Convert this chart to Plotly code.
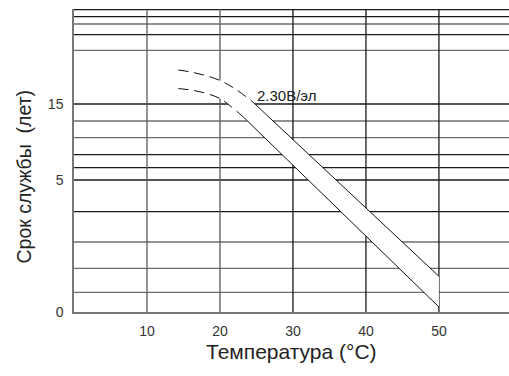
import plotly.graph_objects as go

# Temperature axis ticks
x_ticks = [10, 20, 30, 40, 50]
x_tick_labels = ["10", "20", "30", "40", "50"]

# Vertical position scale (chart units); labelled positions
y_tick_vals = [0, 132, 208]
y_tick_labels = ["0", "5", "15"]

# Horizontal grid lines (chart units) and whether each is dark or light
h_lines = [302.4, 295.4, 288, 277.4, 261.7, 208, 191, 174.4, 157.4, 144.4, 132, 100.4, 70, 43.7, 19.7]
h_dark = [True, True, False, True, False, True, False, False, True, True, True, True, False, False, False]
v_dark = [False, False, True, True, True]

# Service-life band, 2.30 V/cell
upper_dash_x = [14.3, 16.0, 18.0, 20.0, 22.0, 24.5]
upper_dash_y = [242, 240, 236.5, 231.5, 223.5, 210]
upper_solid_x = [24.5, 50.0]
upper_solid_y = [210, 35.7]
lower_dash_x = [14.3, 16.0, 18.0, 20.0, 21.6, 23.2]
lower_dash_y = [223.4, 222, 218.8, 213.5, 205, 195]
lower_solid_x = [23.2, 50.0]
lower_solid_y = [195, 5]

band_label = "2.30В/эл"
band_label_x = 24.8
band_label_y = 217

FONT = "Arial, Liberation Sans, sans-serif"

fig = go.Figure()

# white band between the curves (covers grid lines)
bx = upper_dash_x + upper_solid_x[1:] + lower_solid_x[::-1] + lower_dash_x[::-1][1:]
by = upper_dash_y + upper_solid_y[1:] + lower_solid_y[::-1] + lower_dash_y[::-1][1:]
fig.add_trace(go.Scatter(x=bx, y=by, fill="toself", fillcolor="white",
                         mode="lines", line=dict(width=0, color="white"),
                         hoverinfo="skip", showlegend=False))

for xs, ys, dash in [(upper_dash_x, upper_dash_y, "dash"), (lower_dash_x, lower_dash_y, "dash"),
                     (upper_solid_x, upper_solid_y, "solid"), (lower_solid_x, lower_solid_y, "solid")]:
    fig.add_trace(go.Scatter(x=xs, y=ys, mode="lines", line_shape="spline",
                             line=dict(color="#111", width=1, dash="10px,6px" if dash == "dash" else "solid"),
                             hoverinfo="skip", showlegend=False))

shapes = []
for yv, dark in zip(h_lines, h_dark):
    shapes.append(dict(type="line", xref="paper", yref="y", x0=0, x1=1, y0=yv, y1=yv,
                       line=dict(color="#1a1a1a" if dark else "#6e6e6e", width=1.3), layer="below"))
for xv, dark in zip(x_ticks, v_dark):
    shapes.append(dict(type="line", xref="x", yref="paper", x0=xv, x1=xv, y0=0, y1=1,
                       line=dict(color="#1a1a1a" if dark else "#5a5a5a", width=1.3), layer="below"))

fig.add_annotation(x=band_label_x, y=band_label_y, text=band_label, showarrow=False,
                   xanchor="left", yanchor="middle", font=dict(family=FONT, size=15, color="#222"))
fig.add_annotation(xref="paper", yref="paper", x=-0.115, y=0.447, text="Срок службы \u00a0(лет)",
                   textangle=-90, showarrow=False, xanchor="center", yanchor="middle",
                   font=dict(family=FONT, size=19.5, color="#222"))
fig.add_annotation(xref="paper", yref="paper", x=0.5, y=-0.132, text="Температура (°C)",
                   showarrow=False, xanchor="center", yanchor="middle",
                   font=dict(family=FONT, size=21, color="#222"))

fig.update_layout(
    width=509, height=376,
    margin=dict(l=74, r=0, t=9, b=64),
    paper_bgcolor="white", plot_bgcolor="white",
    shapes=shapes, showlegend=False,
    xaxis=dict(range=[0, 59.6], tickvals=x_ticks, ticktext=x_tick_labels, showgrid=False,
               zeroline=False, showline=True, linecolor="#777", linewidth=1.5,
               ticks="outside", ticklen=5, tickcolor="rgba(0,0,0,0)",
               tickfont=dict(family=FONT, size=14, color="#333")),
    yaxis=dict(range=[0, 303], tickvals=y_tick_vals, ticktext=y_tick_labels, showgrid=False,
               zeroline=False, showline=True, linecolor="#777", linewidth=1.5,
               ticks="outside", ticklen=6, tickcolor="rgba(0,0,0,0)",
               tickfont=dict(family=FONT, size=14, color="#333")),
)

fig.write_html("out.html", config={"displayModeBar": False},
               post_script="document.body.style.margin='0';document.body.style.padding='0';")
